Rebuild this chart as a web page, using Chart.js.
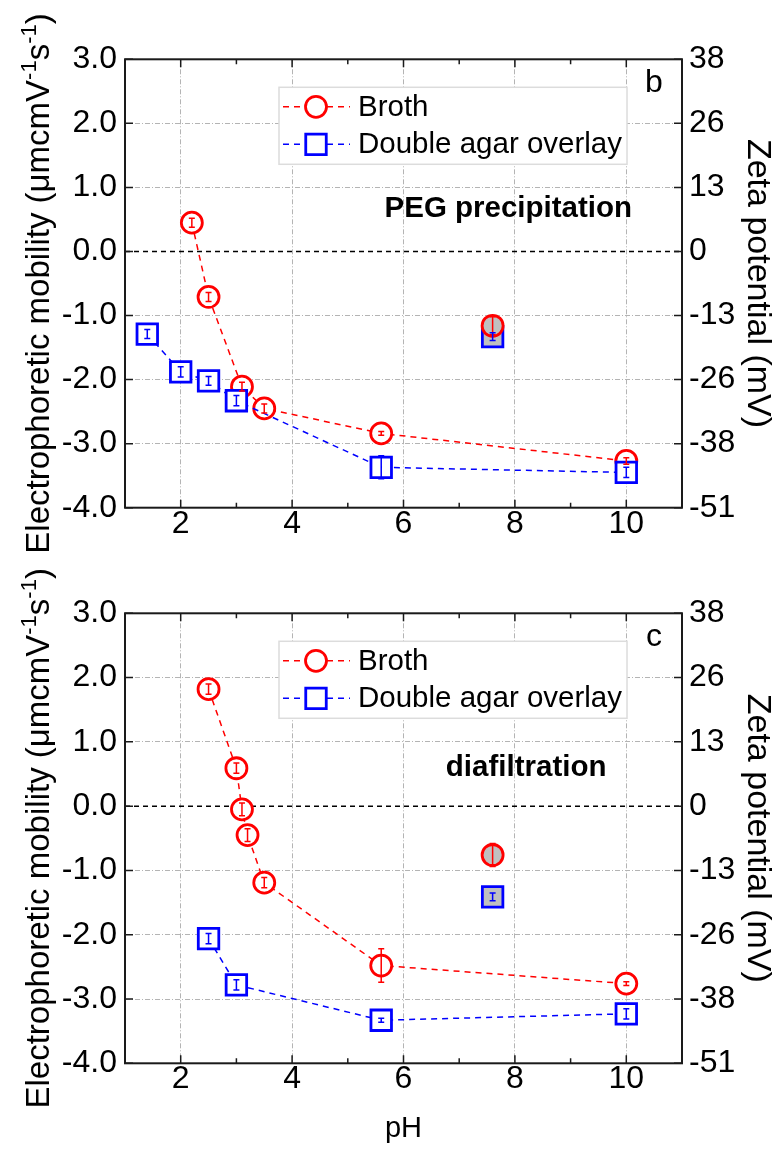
<!DOCTYPE html>
<html>
<head>
<meta charset="utf-8">
<script src="https://cdn.jsdelivr.net/npm/chart.js@4.4.1/dist/chart.umd.min.js"></script>
<style>
  html, body { margin: 0; padding: 0; background: #fff; }
  canvas { display: block; }
</style>
</head>
<body>
<canvas id="panelB" width="784" height="560"></canvas>
<canvas id="panelC" width="784" height="591"></canvas>
<script>
const xTicks = [2, 4, 6, 8, 10];
const xMinorTicks = [3, 5, 7, 9];
const yTicks = [-4, -3, -2, -1, 0, 1, 2, 3];
const zetaLabels = ['-51', '-38', '-26', '-13', '0', '13', '26', '38'];

// panel b: PEG precipitation
const phBrothB = [2.2, 2.5, 3.1, 3.5, 5.6, 10];
const mobBrothB = [0.45, -0.71, -2.11, -2.45, -2.84, -3.27];
const errBrothB = [0.07, 0.07, 0.07, 0.07, 0.03, 0.05];
const phAgarB = [1.4, 2.0, 2.5, 3.0, 5.6, 10];
const mobAgarB = [-1.29, -1.88, -2.02, -2.33, -3.37, -3.45];
const errAgarB = [0.07, 0.08, 0.07, 0.08, 0.18, 0.08];
const phGreyB = [7.6];
const mobGreyBrothB = [-1.16];
const errGreyBrothB = [0.14];
const mobGreyAgarB = [-1.33];
const errGreyAgarB = [0.06];

// panel c: diafiltration
const phBrothC = [2.5, 3.0, 3.1, 3.2, 3.5, 5.6, 10];
const mobBrothC = [1.82, 0.59, -0.05, -0.45, -1.19, -2.48, -2.76];
const errBrothC = [0.08, 0.08, 0.1, 0.1, 0.08, 0.26, 0.03];
const phAgarC = [2.5, 3.0, 5.6, 10];
const mobAgarC = [-2.06, -2.78, -3.33, -3.23];
const errAgarC = [0.08, 0.08, 0.03, 0.08];
const phGreyC = [7.6];
const mobGreyBrothC = [-0.76];
const errGreyBrothC = [0.18];
const mobGreyAgarC = [-1.41];
const errGreyAgarC = [0.06];

const FONT = '"Liberation Sans", Arial, sans-serif';
const RED = '#ff0000';
const BLUE = '#0000ff';
const GREY_FILL = '#c0c0c0';
const GRID = '#b4b4b4';

const pts = (xs, ys) => xs.map((x, i) => ({ x: x, y: ys[i] }));

const errorBars = {
    id: 'errorBars',
    afterDatasetsDraw(chart) {
        const ctx = chart.ctx;
        const ys = chart.scales.y;
        chart.data.datasets.forEach((ds, i) => {
            if (!ds.errors) return;
            const meta = chart.getDatasetMeta(i);
            ctx.save();
            ctx.strokeStyle = ds.borderColor;
            ctx.lineWidth = 1.5;
            ctx.beginPath();
            meta.data.forEach((pt, j) => {
                const v = ds.data[j].y;
                const e = ds.errors[j];
                const top = ys.getPixelForValue(v + e);
                const bot = ys.getPixelForValue(v - e);
                ctx.moveTo(pt.x, top); ctx.lineTo(pt.x, bot);
                ctx.moveTo(pt.x - 3, top); ctx.lineTo(pt.x + 3, top);
                ctx.moveTo(pt.x - 3, bot); ctx.lineTo(pt.x + 3, bot);
            });
            ctx.stroke();
            ctx.restore();
        });
    }
};

const zeroLine = {
    id: 'zeroLine',
    beforeDatasetsDraw(chart) {
        const { ctx, chartArea: a } = chart;
        const py = chart.scales.y.getPixelForValue(0);
        ctx.save();
        ctx.strokeStyle = '#000';
        ctx.lineWidth = 1.5;
        ctx.setLineDash([5, 4]);
        ctx.beginPath();
        ctx.moveTo(a.left, py);
        ctx.lineTo(a.right, py);
        ctx.stroke();
        ctx.restore();
    }
};

const frame = {
    id: 'frame',
    afterDraw(chart) {
        const { ctx, chartArea: a } = chart;
        const x = chart.scales.x, y = chart.scales.y;
        ctx.save();
        ctx.strokeStyle = '#1a1a1a';
        ctx.lineWidth = 1.5;
        ctx.beginPath();
        xTicks.forEach(v => {
            const px = x.getPixelForValue(v);
            ctx.moveTo(px, a.bottom); ctx.lineTo(px, a.bottom - 8);
            ctx.moveTo(px, a.top); ctx.lineTo(px, a.top + 8);
        });
        xMinorTicks.forEach(v => {
            const px = x.getPixelForValue(v);
            ctx.moveTo(px, a.bottom); ctx.lineTo(px, a.bottom - 5);
            ctx.moveTo(px, a.top); ctx.lineTo(px, a.top + 5);
        });
        yTicks.forEach(v => {
            const py = y.getPixelForValue(v);
            ctx.moveTo(a.left, py); ctx.lineTo(a.left + 8, py);
            ctx.moveTo(a.right, py); ctx.lineTo(a.right - 8, py);
        });
        ctx.stroke();
        ctx.lineWidth = 2;
        ctx.strokeRect(a.left, a.top, a.right - a.left, a.bottom - a.top);
        ctx.restore();
    }
};

function drawMarker(ctx, ds, cx, cy) {
    ctx.save();
    ctx.setLineDash([]);
    ctx.lineWidth = ds.pointBorderWidth;
    ctx.strokeStyle = ds.borderColor;
    ctx.fillStyle = ds.pointBackgroundColor;
    ctx.beginPath();
    if (ds.pointStyle === 'rect') {
        const h = ds.pointRadius * Math.SQRT1_2;
        ctx.rect(cx - h, cy - h, 2 * h, 2 * h);
    } else {
        ctx.arc(cx, cy, ds.pointRadius, 0, Math.PI * 2);
    }
    ctx.fill();
    ctx.stroke();
    ctx.restore();
}

const annotations = {
    id: 'annotations',
    afterDraw(chart, args, opts) {
        const { ctx, chartArea: a } = chart;
        const x = chart.scales.x, y = chart.scales.y;

        // legend box
        const bx = a.left + 154, by = a.top + 28, bw = 348, bh = 77;
        ctx.save();
        ctx.fillStyle = '#fff';
        ctx.fillRect(bx, by, bw, bh);
        ctx.strokeStyle = '#dcdcdc';
        ctx.lineWidth = 1.5;
        ctx.strokeRect(bx, by, bw, bh);
        const items = chart.data.datasets.filter(d => d.legendRow !== undefined)
            .sort((p, q) => p.legendRow - q.legendRow);
        items.forEach((ds, i) => {
            const ry = by + 19.5 + i * 37.5;
            ctx.strokeStyle = ds.borderColor;
            ctx.lineWidth = ds.borderWidth;
            ctx.setLineDash(ds.borderDash);
            ctx.beginPath();
            ctx.moveTo(bx + 4, ry);
            ctx.lineTo(bx + 71, ry);
            ctx.stroke();
            drawMarker(ctx, ds, bx + 37, ry);
            ctx.setLineDash([]);
            ctx.fillStyle = '#000';
            ctx.font = '29.5px ' + FONT;
            ctx.textBaseline = 'middle';
            ctx.textAlign = 'left';
            ctx.fillText(ds.label, bx + 79, ry + 1);
        });

        // method label
        ctx.font = 'bold 29.5px ' + FONT;
        ctx.fillText(opts.method, x.getPixelForValue(opts.methodX), y.getPixelForValue(opts.methodY));

        // panel letter
        ctx.font = '32px ' + FONT;
        ctx.textAlign = 'center';
        ctx.fillText(opts.letter, a.right - 28, a.top + 24);

        // left axis title with superscripts
        const parts = [['Electrophoretic mobility (\u03bcmcmV', false], ['-1', true], ['s', false], ['-1', true], [')', false]];
        ctx.translate(40, (a.top + a.bottom) / 2);
        ctx.rotate(-Math.PI / 2);
        ctx.textAlign = 'left';
        ctx.textBaseline = 'alphabetic';
        let total = 0;
        parts.forEach(([t, sup]) => {
            ctx.font = (sup ? '22px ' : '33px ') + FONT;
            total += ctx.measureText(t).width;
        });
        let tx = -total / 2;
        parts.forEach(([t, sup]) => {
            ctx.font = (sup ? '22px ' : '33px ') + FONT;
            ctx.fillText(t, tx, sup ? -4 : 9);
            tx += ctx.measureText(t).width;
        });
        ctx.restore();
    }
};

function lineSet(label, xs, ys, errs, color, style, row) {
    return {
        label: label,
        data: pts(xs, ys),
        errors: errs,
        legendRow: row,
        showLine: true,
        borderColor: color,
        borderWidth: 1.5,
        borderDash: [6, 5],
        pointStyle: style,
        pointRadius: style === 'rect' ? 14.5 : 10.5,
        pointBorderWidth: 2.8,
        pointBackgroundColor: '#fff',
        pointBorderColor: color
    };
}

function greySet(label, xs, ys, errs, color, style) {
    return {
        label: label,
        data: pts(xs, ys),
        errors: errs,
        showLine: false,
        borderColor: color,
        pointStyle: style,
        pointRadius: style === 'rect' ? 14.5 : 10.5,
        pointBorderWidth: 2.8,
        pointBackgroundColor: GREY_FILL,
        pointBorderColor: color
    };
}

function buildPanel(canvasId, datasets, cfg) {
    const tickFont = { family: FONT, size: 32, lineHeight: 1 };
    return new Chart(document.getElementById(canvasId).getContext('2d'), {
        type: 'scatter',
        data: { datasets: datasets },
        plugins: [zeroLine, errorBars, frame, annotations],
        options: {
            responsive: false,
            animation: false,
            layout: { padding: { top: cfg.top, left: 0, right: 0, bottom: 0 } },
            plugins: {
                legend: { display: false },
                tooltip: { enabled: false },
                annotations: { method: cfg.method, methodX: cfg.methodX, methodY: cfg.methodY, letter: cfg.letter }
            },
            scales: {
                x: {
                    type: 'linear',
                    min: 1,
                    max: 11,
                    afterBuildTicks: s => { s.ticks = xTicks.map(v => ({ value: v })); },
                    afterFit: s => { s.height = cfg.xHeight; },
                    grid: { color: GRID, lineWidth: 1, drawTicks: false },
                    border: { display: false, dash: [5, 2, 1, 2] },
                    ticks: { color: '#000', font: tickFont, padding: 0 },
                    title: {
                        display: cfg.showPH,
                        text: 'pH',
                        color: '#000',
                        font: { family: FONT, size: 29 },
                        padding: { top: 0, bottom: 5 }
                    }
                },
                y: {
                    type: 'linear',
                    position: 'left',
                    min: -4,
                    max: 3,
                    afterBuildTicks: s => { s.ticks = yTicks.map(v => ({ value: v })); },
                    afterFit: s => { s.width = 125; },
                    grid: { color: c => (c.tick && c.tick.value === 0) ? 'rgba(0,0,0,0)' : GRID, lineWidth: 1, drawTicks: false },
                    border: { display: false, dash: [5, 2, 1, 2] },
                    ticks: { color: '#000', font: tickFont, padding: 8, callback: v => v.toFixed(1) }
                },
                y2: {
                    type: 'linear',
                    position: 'right',
                    min: -4,
                    max: 3,
                    afterBuildTicks: s => { s.ticks = yTicks.map(v => ({ value: v })); },
                    afterFit: s => { s.width = 102; },
                    grid: { display: false, drawTicks: false },
                    border: { display: false },
                    ticks: { color: '#000', font: tickFont, padding: 7, callback: (v, i) => zetaLabels[i] },
                    title: {
                        display: true,
                        text: 'Zeta potential (mV)',
                        color: '#000',
                        font: { family: FONT, size: 34 },
                        padding: { top: 6, bottom: 0 }
                    }
                }
            }
        }
    });
}

document.addEventListener('DOMContentLoaded', () => {
    buildPanel('panelB', [
        greySet('Broth', phGreyB, mobGreyBrothB, errGreyBrothB, RED, 'circle'),
        lineSet('Double agar overlay', phAgarB, mobAgarB, errAgarB, BLUE, 'rect', 1),
        lineSet('Broth', phBrothB, mobBrothB, errBrothB, RED, 'circle', 0),
        greySet('Double agar overlay', phGreyB, mobGreyAgarB, errGreyAgarB, BLUE, 'rect')
    ], { top: 59.3, xHeight: 52.3, showPH: false, method: 'PEG precipitation', methodX: 5.66, methodY: 0.66, letter: 'b' });

    buildPanel('panelC', [
        greySet('Broth', phGreyC, mobGreyBrothC, errGreyBrothC, RED, 'circle'),
        lineSet('Double agar overlay', phAgarC, mobAgarC, errAgarC, BLUE, 'rect', 1),
        lineSet('Broth', phBrothC, mobBrothC, errBrothC, RED, 'circle', 0),
        greySet('Double agar overlay', phGreyC, mobGreyAgarC, errGreyAgarC, BLUE, 'rect')
    ], { top: 53.3, xHeight: 87.7, showPH: true, method: 'diafiltration', methodX: 6.76, methodY: 0.59, letter: 'c' });
});
</script>
</body>
</html>
